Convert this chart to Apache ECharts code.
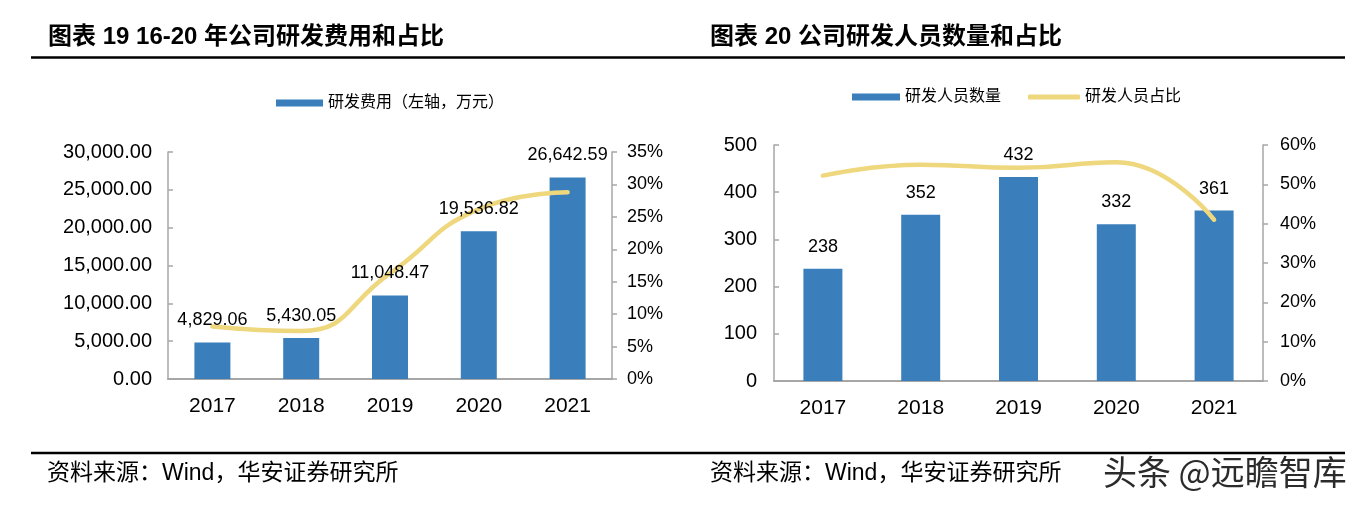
<!DOCTYPE html>
<html>
<head>
<meta charset="utf-8">
<script src="https://cdn.jsdelivr.net/npm/echarts@6/dist/echarts.min.js"></script>
<style>
  html, body { margin: 0; padding: 0; background: #fff; }
  #chart { width: 1371px; height: 505px; }
</style>
</head>
<body>
<div id="chart"></div>
<script>
// ---- data ----
const years = ['2017', '2018', '2019', '2020', '2021'];
const rdExpense = [4829.06, 5430.05, 11048.47, 19536.82, 26642.59];   // 万元
const rdExpenseRatio = [8.1, 7.4, 16.3, 26.2, 28.8];                 // %
const rdStaff = [238, 352, 432, 332, 361];
const rdStaffRatio = [52.2, 55.0, 54.2, 55.6, 41.0];                 // %

const titleLeft = '图表 19 16-20 年公司研发费用和占比';
const titleRight = '图表 20 公司研发人员数量和占比';
const sourceText = '资料来源：Wind，华安证券研究所';
const watermark = '头条 @远瞻智库';
const nameExpense = '研发费用（左轴，万元）';
const nameStaff = '研发人员数量';
const nameStaffRatio = '研发人员占比';

const expenseAxis = { min: 0, max: 30000, interval: 5000 };
const expenseRatioAxis = { min: 0, max: 35, interval: 5 };
const staffAxis = { min: 0, max: 500, interval: 100 };
const staffRatioAxis = { min: 0, max: 60, interval: 10 };

// ---- styling ----
const BLUE = '#3A7FBC';
const YELLOW = '#EED77C';
const AXIS = '#A6A6A6';
const LATIN = 'Liberation Sans, Arial, Noto Sans CJK SC';
const CJK = 'Liberation Sans, Noto Sans CJK SC';

function fmt2(v) {
  const neg = v < 0; v = Math.abs(v);
  const fixed = v.toFixed(2);
  let [ip, dp] = fixed.split('.');
  ip = ip.replace(/\B(?=(\d{3})+(?!\d))/g, ',');
  return (neg ? '-' : '') + ip + '.' + dp;
}

const chart = echarts.init(document.getElementById('chart'), null, { renderer: 'canvas' });

function valueAxis(gridIndex, cfg, position, fmt, fontSize, margin, tickInside) {
  return {
    type: 'value', gridIndex, position,
    min: cfg.min, max: cfg.max, interval: cfg.interval,
    axisLine: { show: true, lineStyle: { color: AXIS, width: 1.5 } },
    axisTick: { show: true, inside: tickInside, length: 5, lineStyle: { color: AXIS, width: 1.5 } },
    splitLine: { show: false },
    axisLabel: { formatter: fmt, fontSize, fontFamily: LATIN, color: '#000', margin }
  };
}

function catAxis(gridIndex) {
  return {
    type: 'category', gridIndex, data: years,
    axisLine: { show: true, lineStyle: { color: AXIS, width: 2 } },
    axisTick: { show: false },
    axisLabel: { fontSize: 21, fontFamily: LATIN, color: '#000', margin: 17 }
  };
}

const labelStyle = { show: true, position: 'top', distance: 13, fontSize: 18, fontFamily: LATIN, color: '#000' };

const option = {
  animation: false,
  backgroundColor: '#fff',
  grid: [
    { left: 168, right: 1371 - 612, top: 152, bottom: 505 - 379 },
    { left: 774, right: 1371 - 1263, top: 145, bottom: 505 - 381 }
  ],
  xAxis: [catAxis(0), catAxis(1)],
  yAxis: [
    valueAxis(0, expenseAxis, 'left', v => fmt2(v), 20, 16, true),
    valueAxis(0, expenseRatioAxis, 'right', '{value}%', 18, 15, false),
    valueAxis(1, staffAxis, 'left', '{value}', 20, 17, true),
    valueAxis(1, staffRatioAxis, 'right', '{value}%', 18, 17, false)
  ],
  legend: [
    {
      data: [{ name: nameExpense, icon: 'rect' }],
      left: 271, top: 90, itemWidth: 47, itemHeight: 7,
      textStyle: { fontSize: 16, fontFamily: CJK, color: '#000' },
      selectedMode: false
    },
    {
      data: [{ name: nameStaff, icon: 'rect' }],
      left: 847, top: 84, itemWidth: 48, itemHeight: 7,
      textStyle: { fontSize: 16, fontFamily: CJK, color: '#000' },
      selectedMode: false
    },
    {
      data: [{ name: nameStaffRatio, icon: 'roundRect' }],
      left: 1023, top: 84, itemWidth: 52, itemHeight: 5,
      textStyle: { fontSize: 16, fontFamily: CJK, color: '#000' },
      selectedMode: false
    }
  ],
  series: [
    {
      name: nameExpense, type: 'bar', xAxisIndex: 0, yAxisIndex: 0,
      data: rdExpense, barWidth: 36, itemStyle: { color: BLUE }, z: 2
    },
    {
      name: '研发费用占比', type: 'line', xAxisIndex: 0, yAxisIndex: 1,
      data: rdExpenseRatio, smooth: 0.5, symbol: 'none',
      lineStyle: { color: YELLOW, width: 4.5, cap: 'round' }, itemStyle: { color: YELLOW }, z: 3
    },
    {
      name: 'expense-labels', type: 'bar', xAxisIndex: 0, yAxisIndex: 0,
      data: rdExpense, barWidth: 36, barGap: '-100%', silent: true,
      itemStyle: { color: 'rgba(0,0,0,0)' }, z: 5,
      label: Object.assign({}, labelStyle, { formatter: p => fmt2(p.value) })
    },
    {
      name: nameStaff, type: 'bar', xAxisIndex: 1, yAxisIndex: 2,
      data: rdStaff, barWidth: 39, itemStyle: { color: BLUE }, z: 2
    },
    {
      name: nameStaffRatio, type: 'line', xAxisIndex: 1, yAxisIndex: 3,
      data: rdStaffRatio, smooth: 0.5, symbol: 'none',
      lineStyle: { color: YELLOW, width: 4.5, cap: 'round' }, itemStyle: { color: YELLOW }, z: 3
    },
    {
      name: 'staff-labels', type: 'bar', xAxisIndex: 1, yAxisIndex: 2,
      data: rdStaff, barWidth: 39, barGap: '-100%', silent: true,
      itemStyle: { color: 'rgba(0,0,0,0)' }, z: 5,
      label: Object.assign({}, labelStyle, { formatter: '{c}' })
    }
  ],
  graphic: [
    { type: 'text', x: 48, y: 37, style: { text: titleLeft, fontSize: 24, fontWeight: 'bold', fontFamily: CJK, fill: '#000', align: 'left', verticalAlign: 'middle' } },
    { type: 'text', x: 710, y: 37, style: { text: titleRight, fontSize: 24, fontWeight: 'bold', fontFamily: CJK, fill: '#000', align: 'left', verticalAlign: 'middle' } },
    { type: 'line', shape: { x1: 31, y1: 57.5, x2: 1345, y2: 57.5 }, style: { stroke: '#000', lineWidth: 2.5 } },
    { type: 'line', shape: { x1: 31, y1: 453, x2: 1345, y2: 453 }, style: { stroke: '#000', lineWidth: 2.5 } },
    { type: 'text', x: 47, y: 474, style: { text: sourceText, fontSize: 23, fontFamily: CJK, fill: '#000', align: 'left', verticalAlign: 'middle' } },
    { type: 'text', x: 710, y: 474, style: { text: sourceText, fontSize: 23, fontFamily: CJK, fill: '#000', align: 'left', verticalAlign: 'middle' } },
    { type: 'text', x: 1103, y: 472, z: 10, style: { text: watermark, fontSize: 34, fontFamily: 'Noto Sans CJK SC', fill: '#2b2b2b', stroke: '#ffffff', lineWidth: 1, align: 'left', verticalAlign: 'middle' } }
  ]
};

chart.setOption(option);
</script>
</body>
</html>
